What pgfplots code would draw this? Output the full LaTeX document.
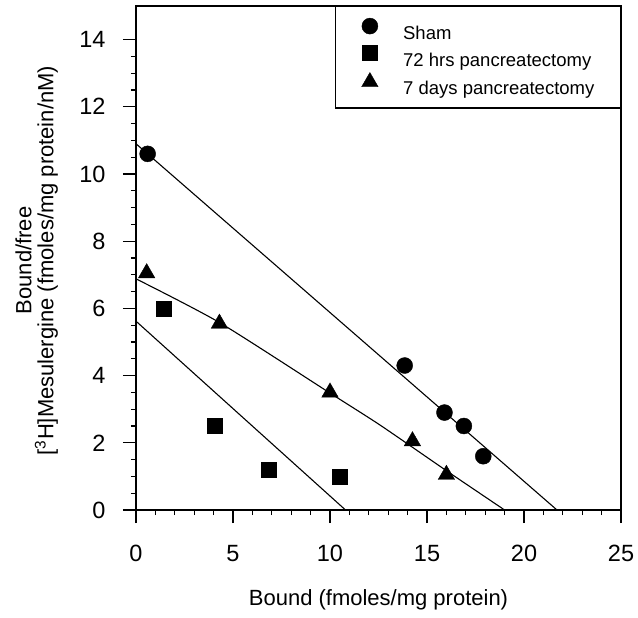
\documentclass[border=0pt]{standalone}
\usepackage{fontspec}
\setmainfont{Liberation Sans}
\usepackage{pgfplots}
\pgfplotsset{compat=1.18}

% Scatchard data: bound (fmol/mg protein) vs bound/free
\pgfplotstableread{
x y
0.6 10.6
13.85 4.3
15.9 2.9
16.9 2.5
17.9 1.6
}\sham
\pgfplotstableread{
x y
1.45 6.0
4.05 2.5
6.85 1.2
10.5 1.0
}\hrs
\pgfplotstableread{
x y
0.55 7.05
4.3 5.55
10.0 3.5
14.25 2.05
16.0 1.05
}\days

\begin{document}
\begin{tikzpicture}
\begin{axis}[
  scale only axis,
  width=485pt, height=504pt,
  xmin=0, xmax=25, ymin=0, ymax=15,
  xtick={0,5,...,25}, ytick={0,2,...,14},
  minor x tick num=4, minor y tick num=3,
  xtick pos=bottom, ytick pos=left,
  tick align=outside,
  major tick length=13pt, minor tick length=5pt,
  axis line style={line width=1.8pt},
  every tick/.style={black, line width=1.3pt},
  /pgf/number format/assume math mode=true,
  ticklabel style={font=\fontsize{23.5}{28}\selectfont},
  xticklabel style={yshift=-19pt},
  yticklabel style={xshift=-14pt},
  xlabel={Bound (fmoles/mg protein)},
  ylabel={Bound/free\\{}[\textsuperscript{3}H]Mesulergine (fmoles/mg protein/nM)},
  label style={font=\fontsize{22}{22}\selectfont},
  xlabel style={at={(axis description cs:0.5,0)}, anchor=center, yshift=-90pt},
  ylabel style={at={(axis description cs:-0.205,0.495)}, anchor=center, align=center, rotate=0},
  legend style={at={(rel axis cs:1,1)}, anchor=north east, draw=black, line width=1.2pt,
    font=\fontsize{18.5}{22}\selectfont, inner xsep=26pt, inner ysep=11.5pt,
    row sep=5pt, nodes={inner sep=0pt},
    /tikz/every odd column/.append style={column sep=25pt}},
  legend cell align=left,
  legend image code/.code={\draw[#1, line width=0.4pt] plot coordinates {(0pt,7pt)};},
]
\addplot[only marks, mark=*, mark size=8pt, black] table {\sham};
\addlegendentry{Sham}
\addplot[only marks, mark=square*, mark size=7.5pt, black] table {\hrs};
\addlegendentry{72 hrs pancreatectomy}
\addplot[only marks, mark=triangle*, mark size=9.5pt, black] table {\days};
\addlegendentry{7 days pancreatectomy}

% fitted lines
\addplot[forget plot, no marks, black, line width=1.1pt] coordinates {(0,10.9) (21.7,0)};
\addplot[forget plot, no marks, black, line width=1.1pt] coordinates {(0,5.62) (10.8,0)};
\addplot[forget plot, no marks, black, line width=1.1pt, smooth, tension=0.4]
  coordinates {(0,6.88) (4.3,5.58) (10,3.48) (12.6,2.52) (16,1.17) (19.0,0)};
\end{axis}
\pgfresetboundingbox
\path[use as bounding box] ([xshift=-136pt,yshift=-107pt]current axis.south west)
  rectangle ([xshift=17pt,yshift=6pt]current axis.north east);
\end{tikzpicture}
\end{document}
